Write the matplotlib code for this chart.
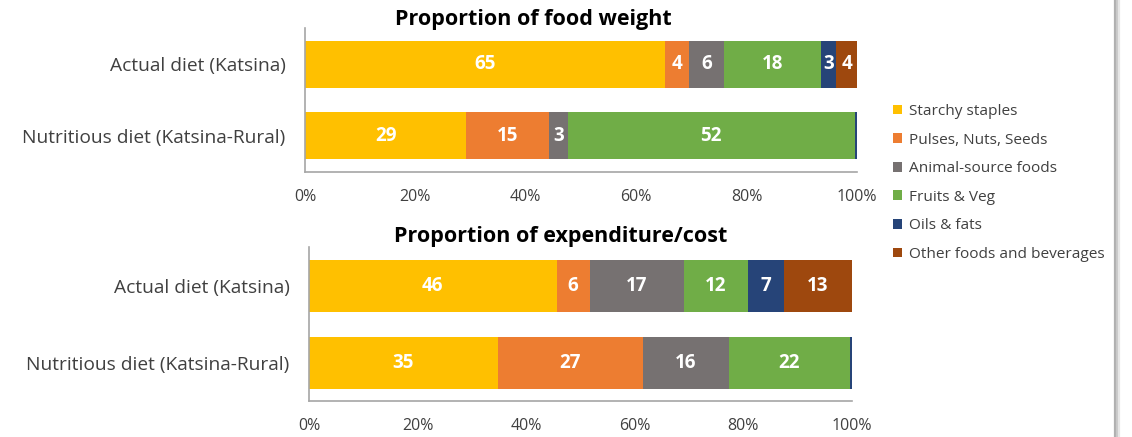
import matplotlib
matplotlib.use("Agg")
import matplotlib.pyplot as plt
from matplotlib.patches import Patch
from matplotlib.lines import Line2D

# data
categories = ["Nutritious diet (Katsina-Rural)", "Actual diet (Katsina)"]
groups = ["Starchy staples", "Pulses, Nuts, Seeds", "Animal-source foods",
          "Fruits & Veg", "Oils & fats", "Other foods and beverages"]
colors = ["#FFC000", "#ED7D31", "#767171", "#70AD47", "#264478", "#9E480E"]

weight_actual = [65.2, 4.4, 6.3, 17.6, 2.7, 3.8]
weight_nutri = [29.2, 15.0, 3.4, 52.0, 0.4, 0.0]
cost_actual = [45.6, 6.1, 17.3, 11.8, 6.6, 12.6]
cost_nutri = [34.8, 26.7, 15.8, 22.3, 0.4, 0.0]

ticks = [0, 20, 40, 60, 80, 100]
tick_names = [f"{t}%" for t in ticks]

plt.rcParams["font.family"] = ["Open Sans", "DejaVu Sans"]

W, H = 1132, 437
fig = plt.figure(figsize=(W / 100, H / 100), dpi=100)


def px_axes(x0, x1, y0, y1):
    return fig.add_axes([x0 / W, 1 - y1 / H, (x1 - x0) / W, (y1 - y0) / H])


def stacked(ax, nutri, actual, bar_h, ylim):
    rows = [nutri, actual]
    for i, vals in enumerate(rows):
        left = 0
        for v, c in zip(vals, colors):
            ax.barh(i, v, left=left, height=bar_h, color=c, linewidth=0)
            if v >= 1:
                ax.text(left + v / 2, i, f"{v:.0f}", ha="center", va="center",
                        color="white", fontsize=13.5, fontweight="bold")
            left += v
    ax.set_xlim(0, 100)
    ax.set_ylim(*ylim)
    ax.set_yticks([0, 1], categories)
    ax.set_xticks(ticks, tick_names)
    for s in ["top", "right"]:
        ax.spines[s].set_visible(False)
    for s in ["left", "bottom"]:
        ax.spines[s].set_color("#A6A6A6")
        ax.spines[s].set_linewidth(1.2)
    ax.tick_params(axis="x", length=0, pad=12, labelsize=11.5, labelcolor="#404040")
    ax.tick_params(axis="y", length=0, pad=14, labelsize=13.8, labelcolor="#404040")


ax1 = px_axes(305, 857, 28, 172)
stacked(ax1, weight_nutri, weight_actual, 0.66, (-0.514, 1.514))

ax2 = px_axes(309, 852, 247, 401)
stacked(ax2, cost_nutri, cost_actual, 0.68, (-0.503, 1.51))

fig.text(533 / W, 1 - 20 / H, "Proportion of food weight", ha="center", va="center",
         fontsize=15.5, fontweight="bold")
fig.text(561 / W, 1 - 236 / H, "Proportion of expenditure/cost", ha="center", va="center",
         fontsize=15.5, fontweight="bold")

handles = [Patch(facecolor=c, edgecolor="none") for c in colors]
fig.legend(handles, groups, loc="upper left", bbox_to_anchor=(893 / W, 1 - 104 / H),
           frameon=False, fontsize=11.1, labelcolor="#404040",
           handlelength=0.6, handleheight=0.6, handletextpad=0.45,
           labelspacing=0.88, borderaxespad=0, borderpad=0)

# panel border on the right
for dx, c in [(0, "#B0B0B0"), (2, "#C8C8C8"), (4, "#E6E6E6")]:
    fig.add_artist(Line2D([(1115 + dx) / W] * 2, [0, 1], color=c, linewidth=1.6,
                          transform=fig.transFigure))

fig.savefig("out.png", dpi=100)
